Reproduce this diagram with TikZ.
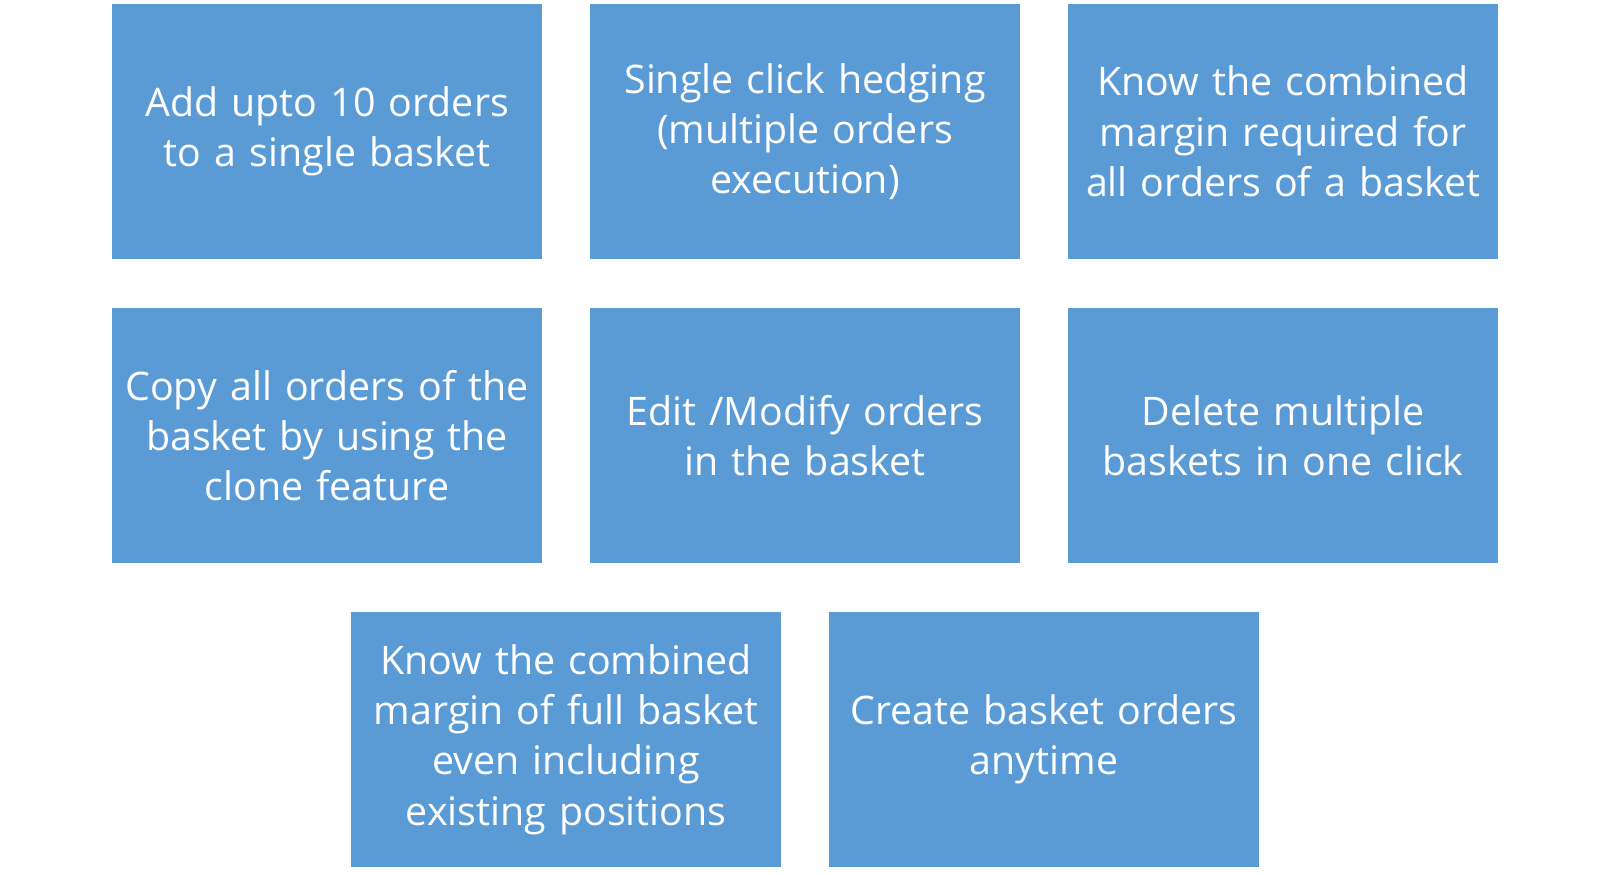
\documentclass[tikz,border=0pt]{standalone}
\usepackage{fontspec}
\setmainfont{Open Sans}
\definecolor{tilefill}{HTML}{5B9BD5}

\begin{document}
\begin{tikzpicture}[
  font=\fontsize{11.2pt}{14.3pt}\selectfont,
  tile/.style={
    fill=tilefill,
    text=white,
    align=center,
    inner sep=0pt,
    minimum width=4.30cm,
    minimum height=2.55cm,
    text width=4.20cm
  }
]
\useasboundingbox (0,0) rectangle (16.09,8.74);

% First row
\node[tile] (addorders) at (3.27,7.425) {Add upto 10 orders\\to a single basket};
\node[tile] (hedging) at (8.05,7.425) {Single click hedging\\(multiple orders\\execution)};
\node[tile] (margin) at (12.83,7.425) {Know the combined\\margin required for\\all orders of a basket};

% Second row
\node[tile] (clone) at (3.27,4.385) {Copy all orders of the\\basket by using the\\clone feature};
\node[tile] (modify) at (8.05,4.385) {Edit /Modify orders\\in the basket};
\node[tile] (delete) at (12.83,4.385) {Delete multiple\\baskets in one click};

% Third row
\node[tile] (fullmargin) at (5.66,1.345) {Know the combined\\margin of full basket\\even including\\existing positions};
\node[tile] (anytime) at (10.44,1.345) {Create basket orders\\anytime};

\end{tikzpicture}
\end{document}
